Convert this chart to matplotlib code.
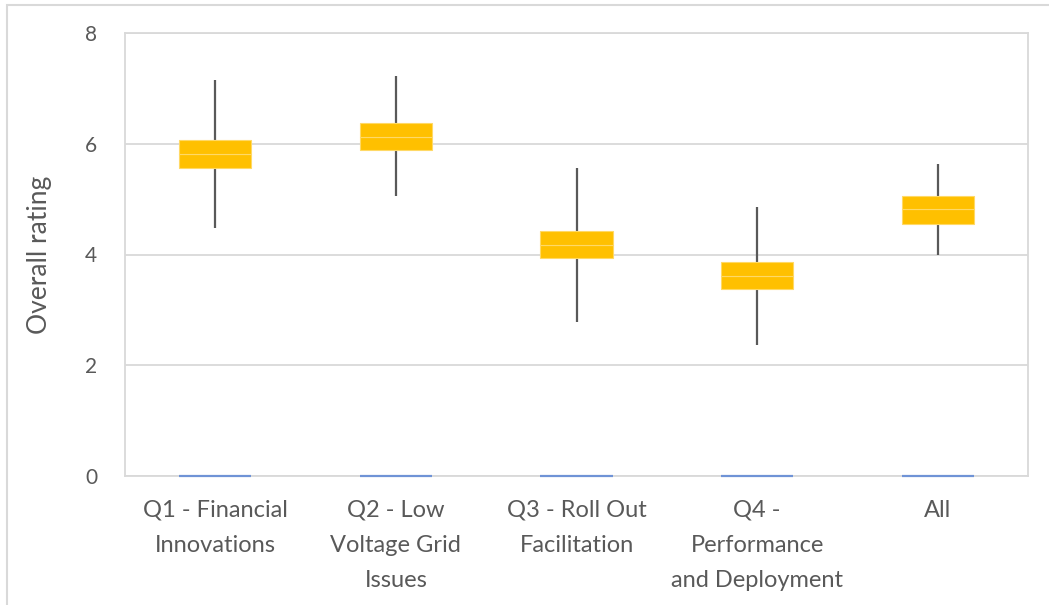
import numpy as np
import matplotlib
matplotlib.use("Agg")
import matplotlib.pyplot as plt
from matplotlib.patches import Rectangle

###############################################################################
# Data
categories = ["Q1 - Financial\nInnovations",
              "Q2 - Low\nVoltage Grid\nIssues",
              "Q3 - Roll Out\nFacilitation",
              "Q4 -\nPerformance\nand Deployment",
              "All"]
whisker_min = [4.48, 5.05, 2.78, 2.36, 3.99]
quart_1 = [5.56, 5.88, 3.93, 3.38, 4.55]
median = [5.81, 6.12, 4.17, 3.61, 4.82]
quart_3 = [6.06, 6.37, 4.42, 3.86, 5.05]
whisker_max = [7.15, 7.22, 5.56, 4.86, 5.63]
y_ticks = [0, 2, 4, 6, 8]

###############################################################################
plt.rcParams['font.family'] = ['Lato', 'DejaVu Sans']
txt_col = '#595959'
grid_col = '#D9D9D9'

fig = plt.figure(figsize=(10.49, 6.05), dpi=100)
ax = fig.add_axes([125/1049, 129/605, 903/1049, 443/605])

x = np.arange(len(categories))
q1 = np.array(quart_1)
md = np.array(median)
q3 = np.array(quart_3)
width = 0.4

# whiskers (behind boxes)
ax.vlines(x, whisker_min, whisker_max, color='#595959', lw=1.6, zorder=2)

# base series shown only as a thin line at zero
base = ax.bar(x, 0, width=width, bottom=0, facecolor='none',
              edgecolor='#6F93D6', lw=1.6, zorder=4)
for b in base:
    b.set_clip_on(False)

# lower and upper halves of box
ax.bar(x, md - q1, width=width, bottom=q1, color='#FFC000',
       edgecolor='#FFD966', lw=0.8, zorder=3)
ax.bar(x, q3 - md, width=width, bottom=md, color='#FFC000',
       edgecolor='#FFD966', lw=0.8, zorder=3)

ax.set_xlim(-0.5, len(categories) - 0.5)
ax.set_ylim(0, 8)
ax.set_yticks(y_ticks)
ax.set_xticks(x)
ax.set_xticklabels(categories, linespacing=1.84)
ax.yaxis.grid(True, color=grid_col, lw=1.3, zorder=0)
ax.set_axisbelow(True)

for s in ax.spines.values():
    s.set_color(grid_col)
    s.set_linewidth(1.3)

ax.tick_params(axis='both', length=0, colors=txt_col)
ax.tick_params(axis='x', labelsize=17, pad=17)
ax.tick_params(axis='y', labelsize=15, pad=20)
ax.set_ylabel("Overall rating", color=txt_col, fontsize=19, labelpad=24)

# chart area border
fig.patches.append(Rectangle((6.5/1049, -0.1), 1.2, (605 - 4.5)/605 + 0.1,
                             transform=fig.transFigure, fill=False,
                             edgecolor=grid_col, lw=1.5))

fig.savefig("out.png", dpi=100)
